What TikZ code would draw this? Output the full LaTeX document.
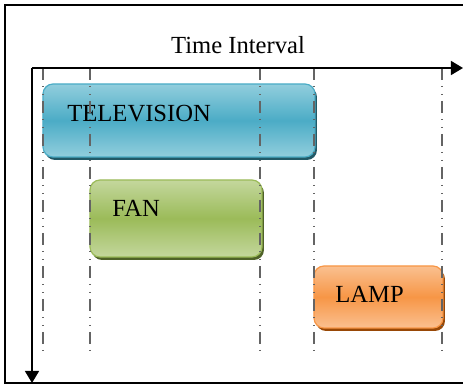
\documentclass[tikz,border=0pt]{standalone}
\usepackage{fontspec}
\setmainfont{Liberation Serif}
\usepackage{tikz}
\usetikzlibrary{arrows.meta,shadows}

\definecolor{tvmid}{RGB}{75,172,198}
\definecolor{tvlight}{RGB}{146,206,221}
\definecolor{tvdark}{RGB}{33,89,103}
\definecolor{fanmid}{RGB}{155,187,89}
\definecolor{fanlight}{RGB}{196,215,157}
\definecolor{fandark}{RGB}{79,98,40}
\definecolor{lampmid}{RGB}{247,150,70}
\definecolor{lamplight}{RGB}{250,192,144}
\definecolor{lampdark}{RGB}{152,72,6}
\definecolor{guide}{RGB}{100,100,100}

\tikzset{
	slot/.style={rectangle, rounded corners=5pt, line width=0.6pt, inner sep=0pt},
	tvbox/.style={slot, draw=tvmid, top color=tvlight, bottom color=tvlight, middle color=tvmid,
		drop shadow={shadow xshift=1pt, shadow yshift=-1.5pt, fill=tvdark, opacity=1}},
	fanbox/.style={slot, draw=fanmid, top color=fanlight, bottom color=fanlight, middle color=fanmid,
		drop shadow={shadow xshift=1pt, shadow yshift=-1.5pt, fill=fandark, opacity=1}},
	lampbox/.style={slot, draw=lampmid, top color=lamplight, bottom color=lamplight, middle color=lampmid,
		drop shadow={shadow xshift=1pt, shadow yshift=-1.5pt, fill=lampdark, opacity=1}},
	devname/.style={anchor=base west, inner sep=0pt},
	guideline/.style={guide, line width=0.6pt,
		dash pattern=on 6pt off 3pt on 0.5pt off 3.5pt on 0.5pt off 3pt},
	axis/.style={line width=0.7pt, -{Triangle[length=6pt,width=7pt]}}
}

\begin{document}
\begin{tikzpicture}[x=0.5pt,y=-0.5pt]
		\fontsize{12.3}{14}\selectfont
		\useasboundingbox (0,0) rectangle (463,385);
		\draw [line width=0.6pt] (463,5) -- (5,5) -- (5,383) -- (463,383);
		
		% devices
		\node [tvbox, minimum width=136pt, minimum height=36.5pt] (tv) at (179,120.5) {};
		\node [fanbox, minimum width=86pt, minimum height=38.5pt] (fan) at (176,218.5) {};
		\node [lampbox, minimum width=64.5pt, minimum height=31pt] (lamp) at (378.5,297) {};
		\node [devname] (tvname) at (67,122) {TELEVISION};
		\node [devname] (fanname) at (112,217) {FAN};
		\node [devname] (lampname) at (335,303) {LAMP};
		
		% time marks
		\foreach \x in {43,90,260,314,442}
		\draw [guideline] (\x,68) -- (\x,355);
		
		% axes
		\coordinate (origin) at (32,68);
		\coordinate (tend) at (463,68);
		\coordinate (vend) at (32,383);
		\draw [axis] (origin) -- (tend);
		\draw [axis] (origin) -- (vend);
		\node [anchor=base, inner sep=0pt] (title) at (238,54) {Time Interval};
		\end{tikzpicture}
\end{document}
